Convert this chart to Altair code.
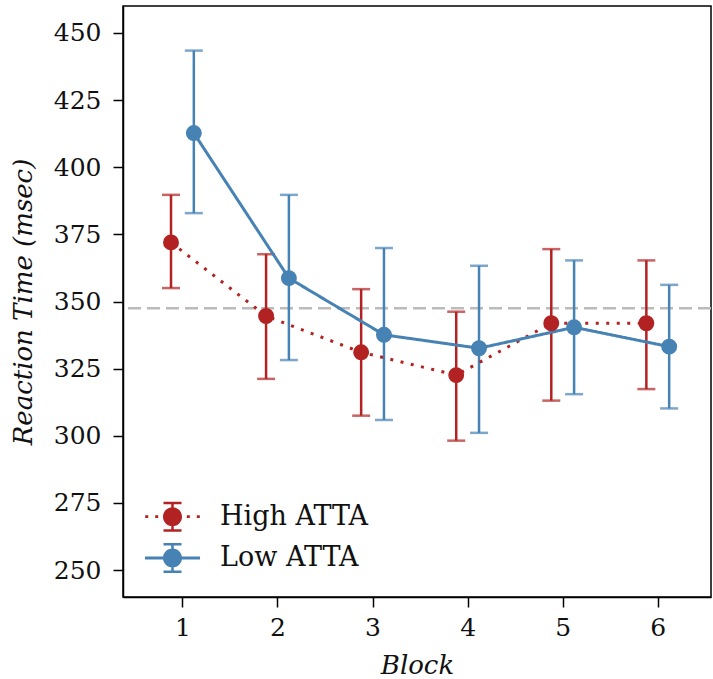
import altair as alt
import pandas as pd

blocks = [1, 2, 3, 4, 5, 6]
groups = ["High ATTA", "Low ATTA"]
high_mean = [372.0, 344.6, 331.1, 322.6, 341.9, 341.9]
high_lo = [355.0, 321.2, 307.5, 298.2, 313.1, 317.4]
high_hi = [389.7, 367.6, 354.6, 346.2, 369.5, 365.3]
low_mean = [412.7, 358.7, 337.6, 332.6, 340.4, 333.2]
low_lo = [382.9, 328.2, 305.9, 301.1, 315.5, 310.2]
low_hi = [443.4, 389.7, 369.9, 363.3, 365.3, 356.2]
colors = ["#B22222", "#4682B4"]
dashes = [[3, 7.5], [1, 0]]
y_ticks = [250, 275, 300, 325, 350, 375, 400, 425, 450]

rows = []
for g, m, lo, hi in [(groups[0], high_mean, high_lo, high_hi), (groups[1], low_mean, low_lo, low_hi)]:
    for b, mv, l, h in zip(blocks, m, lo, hi):
        rows.append({"block": b, "group": g, "mean": mv, "lo": l, "hi": h})
df = pd.DataFrame(rows)

FONT = "DejaVu Serif"

base = alt.Chart(df).transform_calculate(
    xb="datum.block + (datum.group === 'High ATTA' ? -0.12 : 0.12)",
    grp="datum.group",
)

xenc = alt.X("xb:Q", scale=alt.Scale(domain=[0.375, 6.56], nice=False, zero=False),
             axis=alt.Axis(values=blocks, title="Block", format="d"))
yscale = alt.Scale(domain=[240, 460], nice=False, zero=False)
yaxis = alt.Axis(values=y_ticks, title="Reaction Time (msec)")

cscale = alt.Scale(domain=groups, range=colors)
dscale = alt.Scale(domain=groups, range=dashes)


# legend glyphs (filled shapes only): marker + error bar + solid or dotted line
def f(v):
    return f"{v:.3f}"


def rect(x0, y0, x1, y1):
    return f"M{f(x0)},{f(y0)}L{f(x1)},{f(y0)}L{f(x1)},{f(y1)}L{f(x0)},{f(y1)}Z"


R = 0.95
common = (f"M{R},0A{R},{R} 0 1,1 -{R},0A{R},{R} 0 1,1 {R},0Z"
          + rect(-0.125, -1.37, 0.125, 1.37)
          + rect(-0.9, -1.495, 0.9, -1.245)
          + rect(-0.9, 1.245, 0.9, 1.495))
glyph_solid = rect(-2.75, -0.14, 2.75, 0.14) + common
glyph_dotted = "".join(rect(c - 0.15, -0.14, c + 0.15, 0.14)
                       for c in [-2.58, -1.58, -0.58, 0.58, 1.58, 2.58]) + common

legend = alt.Legend(
    title=None, orient="none", legendX=36, legendY=497.2, padding=0,
    symbolSize=400, symbolStrokeWidth=0, symbolOpacity=1,
    labelOffset=34, rowPadding=10.3, labelFontSize=27, labelFont=FONT,
    labelColor="#111111", labelBaseline="middle",
)

ref = alt.Chart(df).transform_aggregate(grand="mean(mean)").mark_rule(
    color="#BBBBBB", strokeWidth=2.5, strokeDash=[13, 6]
).encode(y=alt.Y("grand:Q", scale=yscale, axis=yaxis))

bars = base.mark_rule(strokeWidth=2.5).encode(
    x=xenc, y=alt.Y("lo:Q", scale=yscale, axis=yaxis), y2="hi:Q",
    color=alt.Color("group:N", scale=cscale, legend=None),
)
cap_lo = base.mark_tick(orient="horizontal", size=18, thickness=2.5).encode(
    x=xenc, y=alt.Y("lo:Q", scale=yscale, axis=yaxis),
    color=alt.Color("group:N", scale=cscale, legend=None),
)
cap_hi = base.mark_tick(orient="horizontal", size=18, thickness=2.5).encode(
    x=xenc, y=alt.Y("hi:Q", scale=yscale, axis=yaxis),
    color=alt.Color("group:N", scale=cscale, legend=None),
)

lines = base.mark_line(strokeWidth=3, strokeCap="butt").encode(
    x=xenc, y=alt.Y("mean:Q", scale=yscale, axis=yaxis),
    stroke=alt.Stroke("group:N", scale=cscale, legend=None),
    strokeDash=alt.StrokeDash("group:N", scale=dscale, legend=None),
)

points = base.mark_circle(size=254, opacity=1).encode(
    x=xenc, y=alt.Y("mean:Q", scale=yscale, axis=yaxis),
    color=alt.Color("group:N", scale=cscale, legend=None),
)

# carries the legend only (its own marks are fully transparent)
legend_src = base.mark_point(filled=True, opacity=0, size=254).encode(
    x=xenc, y=alt.Y("mean:Q", scale=yscale, axis=yaxis),
    fill=alt.Fill("grp:N", scale=alt.Scale(range=colors), legend=legend),
    shape=alt.Shape("grp:N", scale=alt.Scale(range=[glyph_dotted, glyph_solid]), legend=legend),
)

chart = alt.layer(ref, bars, cap_lo, cap_hi, lines, points, legend_src).properties(
    width=588, height=591,
    padding={"left": 10, "top": 6, "right": 0, "bottom": 0},
).configure_view(
    stroke="black", strokeWidth=1.5
).configure_axis(
    grid=False, domainColor="black", domainWidth=1.5,
    tickColor="black", tickWidth=1.5, tickSize=10,
    labelFont=FONT, labelFontSize=25, labelColor="#111111",
    titleFont=FONT, titleFontSize=26, titleFontStyle="italic", titleFontWeight="normal",
    titleColor="#111111",
).configure_axisX(labelPadding=8, titlePadding=12).configure_axisY(labelPadding=12, titlePadding=17)

chart.save("out.html", embed_options={"renderer": "svg", "actions": False})
